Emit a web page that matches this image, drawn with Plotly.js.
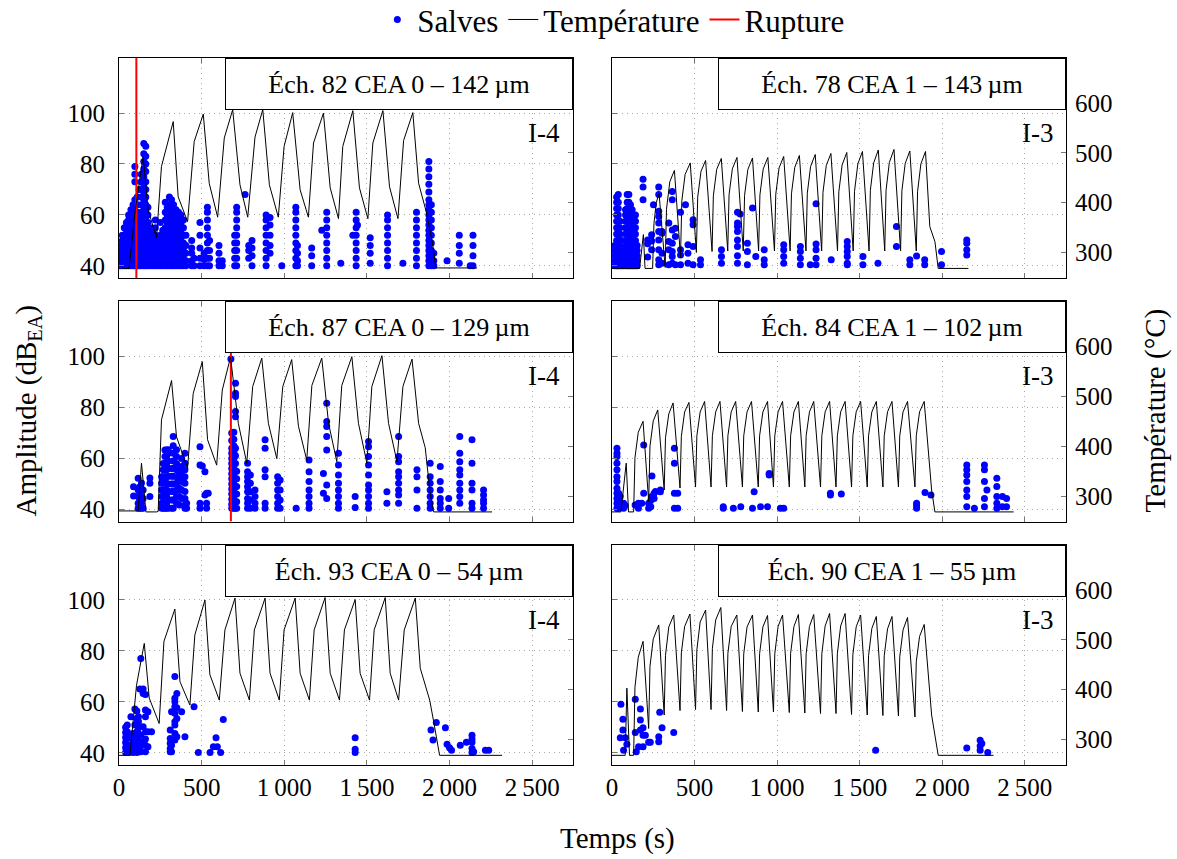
<!DOCTYPE html>
<html><head><meta charset="utf-8">
<script src="https://cdn.plot.ly/plotly-3.0.1.min.js"></script>
<style>html,body{margin:0;padding:0;background:#fff}#chart{width:1177px;height:859px}</style>
</head><body><div id="chart"></div>
<script>
// ---------- axes ----------
const AMP_RANGE = [35.2, 121.6];
const TEMP_RANGE = [248.6, 690.8];
const T_RANGE = [0, 2750];
const xTickVals = [0, 500, 1000, 1500, 2000, 2500];
const xTickText = ['0', '500', '1\u2009000', '1\u2009500', '2\u2009000', '2\u2009500'];
const ampTicks = [40, 60, 80, 100];
const tempTicks = [300, 400, 500, 600];

const panelTitles = [
  'Éch. 82 CEA 0 – 142\u2009µm', 'Éch. 78 CEA 1 – 143\u2009µm',
  'Éch. 87 CEA 0 – 129\u2009µm', 'Éch. 84 CEA 1 – 102\u2009µm',
  'Éch. 93 CEA 0 – 54\u2009µm',  'Éch. 90 CEA 1 – 55\u2009µm'];
const panelLabels = ['I-4', 'I-3', 'I-4', 'I-3', 'I-4', 'I-3'];
const ruptureTimes = [105, null, 677, null, null, null];

// ---------- temperature (time s, °C) ----------
const p1TempT = [15,61,96,146,176,227,257,328,358,415,455,510,546,597,637,688,732,779,823,870,910,964,999,1051,1096,1146,1177,1237,1278,1328,1354,1415,1455,1506,1536,1597,1637,1688,1722,1778,1813,1859,1894,1918,2167];
const p1TempV = [268,268,379,493,386,329,473,563,412,362,523,578,439,371,530,587,436,371,532,587,436,371,513,581,426,371,520,580,430,368,513,585,430,368,520,585,432,368,525,581,439,382,325,269,269];

const p2TempT = [0,167,190,200,246,254,268,285,322,330,350,378,415,423,443,474,511,519,539,567,606,614,634,662,701,709,729,757,795,803,823,851,888,896,916,944,984,992,1012,1040,1079,1087,1107,1135,1175,1183,1203,1231,1270,1278,1298,1326,1366,1374,1394,1422,1461,1469,1489,1517,1557,1565,1585,1613,1652,1660,1680,1708,1748,1756,1776,1804,1843,1851,1871,1899,1925,1956,1976,2159];
const p2TempV = [268,268,336,268,268,358,400,419,270,387,442,465,290,404,457,480,300,411,463,485,302,414,467,489,303,416,468,491,303,415,467,490,303,416,468,491,303,417,470,493,303,418,471,495,303,419,473,497,303,421,475,499,303,422,476,501,303,423,478,503,303,425,480,506,303,425,481,507,303,424,479,504,303,423,478,503,352,322,268,268];

const p3TempT = [0,116,136,163,227,237,257,318,348,415,449,504,536,591,625,675,722,773,809,864,904,955,991,1045,1086,1136,1167,1227,1268,1318,1348,1409,1449,1500,1530,1591,1631,1682,1718,1773,1813,1853,1883,1904,2257];
const p3TempV = [270,270,366,268,268,269,453,532,419,356,506,570,413,362,513,579,446,366,520,577,446,375,520,574,440,372,522,577,446,369,522,580,446,366,520,582,446,369,520,575,446,397,305,268,268];

const p4TempT = [0,54,86,100,131,139,159,188,222,230,250,277,316,324,344,370,412,420,440,466,506,514,534,561,600,608,628,654,694,702,722,749,790,798,818,845,886,894,914,942,978,986,1006,1033,1074,1082,1102,1129,1168,1176,1196,1222,1263,1271,1291,1318,1357,1365,1385,1412,1451,1459,1479,1506,1546,1554,1574,1601,1641,1649,1669,1696,1735,1743,1763,1790,1835,1843,1863,1891,1936,1956,2433];
const p4TempV = [268,268,366,268,268,377,428,450,289,400,451,473,312,417,465,487,316,420,469,488,318,421,469,490,318,421,469,490,318,421,469,490,318,421,469,490,318,421,469,490,318,421,469,490,318,421,469,490,318,421,469,490,318,421,469,490,318,421,469,490,318,421,469,490,318,421,469,490,318,421,469,490,318,421,469,490,318,421,469,490,312,268,268];

const p5TempT = [0,66,106,153,183,243,272,338,369,429,459,520,550,607,641,702,732,789,819,884,914,970,999,1066,1096,1152,1181,1247,1278,1334,1364,1429,1459,1516,1544,1611,1641,1692,1726,1793,1823,1880,1904,1940,2318];
const p5TempV = [268,268,409,493,383,332,497,562,416,369,510,580,430,379,520,584,433,379,520,584,433,379,520,584,433,379,520,585,433,379,520,581,433,379,520,585,433,379,520,584,443,379,336,268,268];

const p6TempT = [0,80,90,106,131,139,159,188,222,230,250,283,316,324,344,374,412,420,440,472,506,514,534,567,600,608,628,659,694,702,722,756,790,798,818,851,886,894,914,942,978,986,1006,1033,1074,1082,1102,1129,1168,1176,1196,1222,1263,1271,1291,1318,1357,1365,1385,1412,1451,1459,1479,1506,1546,1554,1574,1601,1641,1649,1669,1696,1735,1743,1763,1790,1835,1843,1863,1891,1936,1976,2311];
const p6TempV = [268,268,403,268,268,405,465,497,322,447,502,530,349,469,526,550,358,474,527,552,360,480,536,560,360,483,540,565,358,473,527,550,356,472,526,550,355,472,526,549,355,472,527,550,354,473,527,551,353,472,527,551,352,472,528,553,352,472,528,553,350,470,526,550,349,468,523,547,348,468,522,547,347,466,520,545,345,456,507,531,349,268,268];

// ---------- salves: columns [time, amplitudes...] ----------
const p1Salves = [
 [8,40,42,44,46,48],[20,40,42.5,45,47.5,50,52],[32,40,43,46,49,52,55],[45,40,42,45,48,51,54,57],
 [58,40,43,46,49,52,55,58,60],[72,40,42,45,48,51,54,56,62],[85,40,43,46,49,52,55,58,64],
 [96,40,42,45,48,51,54,57,60,63,66,73,76,79],[110,40,43,46,49,52,55,58,61,64,67],
 [122,40,42,45,48,51,54,57,60,70],[135,40,43,46,49,52,55,58,61,64,67,70,73,76],
 [150,40,42,45,48,51,54,57,60,63,66,69,72,75,78,81,84,88],[162,40,43,46,49,52,55,58,61,64,67,70,73,77,80,83,87],
 [175,40,42,45,48,51,54,57,60,63],[190,40,43,46,49,52,55],[205,40,42,45,48,51,54],[220,40,43,46,49,52,55,58],
 [235,40,42,45,48,51],[250,40,43,46,49,52,57],[265,40,42,45,48,51,54],[280,40,43,46,49,52,55,58,61,65],
 [292,40,42,45,48,51,54,57,60,63],[305,40,43,46,49,52,55,58,61,64,67],[318,40,42,45,48,51,54,57,60,63,66],
 [330,40,43,46,49,52,55,58,61,64],[345,40,42,45,48,51,54,57,60,62],[360,40,43,46,49,52,55,58,61],
 [375,40,42,45,48,51,54,57,60],[390,40,43,46,49,52,55,58],[405,40,42,45,48,52],
 [440,40,42,45,47,50],[455,40,43],[490,40,43,47,52,57],[515,40,42.5,45],[535,40,43,46,49,52,55,58,61,63],
 [548,40,43,46,50],[605,40,42,45,48],[625,40,42],[700,40,43,46,49,52],[712,40,43,46,49,52,55,58,61,63],
 [763,68],[785,43,46,48],[805,40,44,47,50],[890,40,43,46,49,52,55,58,60],[914,45,48,52,56,59],[985,40],
 [1070,40,43,46,49,52,55,58,61,63],[1080,40,42,45,48],[1166,40,44,47],[1227,54],[1257,40,43,46,49,52,55,58,61],
 [1342,41],[1415,52],[1435,40,43,46,49,52,55,58,61],[1443,56],[1520,41,45,48,51],[1625,40,43,46,49,52,55,58,60],
 [1718,41],[1800,40,43,46,49,52,55,58,61],[1875,40,42,44,46,48,50,52,54,56,58,60,62,64,66,69,72,75,78,81],
 [1890,40,43,46,49,52,55,58,61,64],[1905,40,42,45],[1985,42],[2059,41,45,48,52],[2125,40],[2142,40,44,48,52]
];
const p2Salves = [
 [18,40,42,44,46,48],[28,40,42.5,45,47.5,50,52.5,55,57.5,60,62.5,65,67],[38,40,42.5,45,47.5,50,52.5,55,57.5,60,62.5,65,68],
 [48,40,42.5,45,47.5,50,52.5,55,57.5],[58,40,42.5,45,47.5,50],[68,40,42.5,45],
 [82,40,42.5,45,47.5,50,52.5,55,57.5,60,62],[92,40,42.5,45,47.5,50,52.5,55,57.5,60,62.5,65,68],
 [102,40,42.5,45,47.5,50,52.5,55,57.5,60,62.5,65,68],[112,40,42.5,45,47.5,50,52.5,55,57.5,60,62.5,64],
 [122,40,42.5,45,47.5,50,52.5,55,57.5,60,62],[132,40,42.5,45,47.5,50,52.5,55,57.5,60],
 [142,40,42.5,45,47.5,50,52.5,55,57.5,60],[152,40,42,44,46,48],
 [188,66,71,74],[216,43.5,48.7,50.2],[240,49.8,52.2,46.3],[251,64],
 [283,71,68,61.4,59.4,56.8,53.5,50.2,46.3,42.4,40.4],[303,53.5,52.8,41,45],[344,56.8,49.6,46.3,40.4],
 [365,69.2,66,54.1,48.9,45.6,43.7,41],[384,54.8,51.5,40.4],[415,61,46.3,44.3,40.4],[445,64],[460,48.3,45,41],
 [491,58.1,56.1,47.6,40.4],[536,42.4,40.4],[663,46.3,43.7,41],[760,61,56.8,55.5,53.5,50.2,47.6,44,41],[776,60.4],
 [820,48.9,45.6,40.4],[851,62.7],[871,43.7],[922,46.3,42.4,40.4],[1040,48.3,46.3,43.7,41],[1141,47.6,45.6,43,40.4],
 [1201,40.4],[1236,64.4,48.6,46.3,43,40.4],[1328,42.4],[1425,49.6,47.6,45.6,43.7,41,40.4],[1520,43.7,40.4],
 [1611,41],[1723,55.5,47.6],[1804,42.4,40.4],[1845,43.9],[1894,42.4,40.4],[1996,45.6,40.4],[2149,50.2,48.9,46.3,44.3]
];
const p3Salves = [
 [88,45.2,48.9],[116,40.4,42.4,45,47.6,52.2],[126,40.4,43.7,46.3,48.9],[136,40.4,42.4,45,50.3],[146,40.4,44.3,47.6],
 [187,50.2,52.3,45],[258,40.4,42.4,45,47.6,50.2,52.8],[268,40.4,42.4,45,47.6,50.2,52.8,55.5,58],
 [278,40.4,42.4,45,47.6,50.2,52.8,55.5,58,60.7,63.3],[288,40.4,42.4,45,47.6,50.2,52.8,55.5,58,60.7,63.3],
 [298,40.4,43.7,47,50,53,56,59,62,63.4],[318,40.4,43.7,47,50,53,56],[328,40.4,43.7,47,50,53,56,59,62,65,68.6],
 [348,42.4,45,47.6,50.2,52.8,55.5,58,60.7,63.4],[365,41.7,45,48.3,51.5,54.8],[379,44.3,47.6,50.9,53.5,56.8,60],
 [399,40.4,41.7,44.3,47,50.2,52.8,55.5,58.1,62],[409,40.4,42.4],[490,40.4,42.4,57.4,64.6],[504,57],[520,54.8,45.6],
 [530,46.3,42.4,40.4],[540,46.3],[677,99],[682,40.4,42,44,46,48,50,52,54,56,58,60,62,64,67,70],
 [695,40.4,42,44,46,48,50,52,54,56,58,60,62.5,65,67.5,70.3],[705,40.4,43,46,49,52,55,58,61,64,76.4,78.4,84.3,85.6,89.5],
 [712,40.4,43,46,49,52,55],[778,40.4,42.4,44.3,46.9,48.9,50.9,52.8,54.8,58.1],[795,40.4,43.7,46.9,50.2,53.5],
 [823,40.4,42.4,45,47.6],[884,67.3,64,55.5,52.8,42.4,40.4],[960,40.4,42.4,45,47.6,50.2,52.8],[975,40.4,43.7,47.6,51.5],
 [1072,40.4],[1150,59.4,54.8,50.9,47.6,45,42.4,40.4],[1237,54.1,46.3],[1257,81.7,74.5,72.5,68.6,63.3,49.6,44.3],
 [1328,62,57.4,53.5,50.2,47.6,45,42.4,40.4],[1429,45,40.7],[1510,66.6,64.6,60.7,57.4,53.5,49.6,47.6,45,42.4,40.4],
 [1621,46.9,42.4],[1692,68.6,60.7,58.7,54.8,52.8,50.2,47.6,45.6,42.4],[1803,55.5,52.8,47.6,40.4],
 [1883,58.1,52.8,50.2,47.6,45,42.4,40.4],[1944,56.8,50.9,47.6,44.3,42.4,40.4],[1995,44.3,40.4],
 [2062,68.6,62,58.7,55.5,53.5,50.2,47.6,45,42.4],[2136,67.3,58.1,50.2,47.6,42.4,40.4],[2206,47.6,45.6,43.7,42.4,40.4]
];
const p4Salves = [
 [30,64,62,60.7,58.1,55.5,52.8,50.9,48.3,46.3,44.3,42.4,40.4],[40,46.3,44.3,42.4,40.4],[50,45,42.4],[70,42.4,40.4],
 [80,41.5],[140,41.7],[160,42.4,40.4],[180,42.4],[192,65.3,46.3],[222,42.4,40.4],[235,43.5,41],[242,53.1,45],
 [255,46.3,44.3],[263,47],[293,47.6,46.9],[378,64,58.1,46.3,40.4],[398,46.3,40.4],[674,41,40.4],[735,40.4],
 [780,41],[851,40.4],[861,46.9],[900,41],[942,41],[952,54.1,53.5],[1020,40.4],[1040,40.4],[1323,46.3,45.6],
 [1389,46],[1845,42.4,40.4,41.5],[1896,46.6],[1932,45.6],[2149,57.4,55.5,53.5,50.9,47.6,45,41],[2195,40.4],
 [2256,57.4,55.5,50.9,44.3,41],[2271,47.6],[2331,52.2,49,45,42.4,40.4],[2365,45,41],[2390,44.3,41]
];
const p5Salves = [
 [40,40.1,42,44,46,48,50],[50,40.4,43,45.6,48.3,50.9],[60,40.1,43,46],[72,40.4,43,46.9,54.1],[85,40.1,42.4,45,47.6],
 [96,57.2,50.9,46.3],[108,40.1,41.7,43.7,46.3,48.3,51.5,53.5,56.4],[118,40.4,42.4,44.6,47.6,49.8,52.2,54.1],
 [126,65,44.3,41.7],[132,77,46.9,40.4],[146,65,63.3,50.2,43.7],[160,62.9,56.8,54.1,48.3,45.4,43,40.4],
 [175,56.1,48.3,42.4],[197,48.3],[310,48.9,45.6,43.7,41.7,40.4],[318,56.1,43,40.4],
 [338,69.9,61.4,60,58.1,55.5,52.2,50.9,47.6,45],[350,63.3,57.7,53.5,46.3],[379,56.1],[399,46.3],[454,58.1],
 [480,40.1],[551,40.1],[571,42.4],[587,45.9],[595,42.4],[615,40.1],[631,53.1],[1429,45.9,41.4,40.1],
 [1888,48.9],[1900,45],[1920,51.9],[1975,49.8],[1985,43.3],[2000,42],[2012,41],[2065,43],[2102,44.1],
 [2136,46.9,45.4,44.1,41.7,40.1],[2146,40.4],[2217,41],[2237,41]
];
const p6Salves = [
 [50,45.9],[54,59],[66,53.2,48.9],[70,41],[80,45.9],[90,43.3],[141,61,48],[147,40.4],[161,42.4],
 [172,57.2,52.9,48.9],[188,49.8,46.9,42.4],[202,46.9],[222,44.1],[232,44.1],[283,46.3,44.3],[289,55.9],
 [303,49.8],[374,48],[1597,41],[2149,41.9],[2230,44.9,42.7,41],[2240,43.6],[2276,40.1]
];

const salvesByPanel = [p1Salves, p2Salves, p3Salves, p4Salves, p5Salves, p6Salves];
const tempTByPanel = [p1TempT, p2TempT, p3TempT, p4TempT, p5TempT, p6TempT];
const tempVByPanel = [p1TempV, p2TempV, p3TempV, p4TempV, p5TempV, p6TempV];

// ---------- layout geometry ----------
const COLS = [[0, 0.4799], [0.5206, 1]];
const ROWS = [[0.6887, 1], [0.3443, 0.6556], [0, 0.3113]];
const FONT = 'Liberation Serif, Times New Roman, serif';
const GRID_DASH = '1px,4px';

function flatten(cols) {
  const x = [], y = [];
  cols.forEach(c => { for (let i = 1; i < c.length; i++) { x.push(c[0]); y.push(c[i]); } });
  return {x, y};
}

const traces = [];
const layout = {
  width: 1177, height: 859, autosize: false,
  margin: {l: 119, r: 111, t: 58, b: 94, autoexpand: false},
  paper_bgcolor: '#fff', plot_bgcolor: '#fff',
  font: {family: FONT, size: 25, color: '#000'},
  showlegend: true,
  legend: {orientation: 'h', x: 0.522, xanchor: 'center', y: 1.054, yanchor: 'middle',
           font: {family: FONT, size: 31}, bgcolor: 'rgba(0,0,0,0)', itemwidth: 30, tracegroupgap: 0},
  annotations: []
};

for (let i = 0; i < 6; i++) {
  const n = i + 1, col = i % 2, row = Math.floor(i / 2);
  const sx = n === 1 ? '' : String(n);
  const xa = 'x' + sx, ya = 'y' + sx, ta = 'y' + (n + 6);
  const s = flatten(salvesByPanel[i]);
  traces.push({type: 'scatter', mode: 'markers', x: s.x, y: s.y, xaxis: xa, yaxis: ya,
    marker: {color: '#0000ff', size: 7}, name: 'Salves', legendgroup: 's', showlegend: i === 0,
    hoverinfo: 'skip'});
  if (ruptureTimes[i] !== null) {
    traces.push({type: 'scatter', mode: 'lines', x: [ruptureTimes[i], ruptureTimes[i]], y: AMP_RANGE,
      xaxis: xa, yaxis: ya, line: {color: '#ff0000', width: 2}, name: 'Rupture', legendgroup: 'r',
      showlegend: false, hoverinfo: 'skip'});
  }
  traces.push({type: 'scatter', mode: 'lines', x: tempTByPanel[i], y: tempVByPanel[i], xaxis: xa, yaxis: ta,
    line: {color: '#000', width: 1}, name: 'Température', legendgroup: 't', showlegend: i === 0,
    hoverinfo: 'skip'});

  layout['xaxis' + sx] = {domain: COLS[col], anchor: ya, range: T_RANGE, tickvals: xTickVals, ticktext: xTickText,
    showticklabels: row === 2, ticks: 'inside', ticklen: 5, tickcolor: '#777', tickwidth: 1,
    showline: true, mirror: 'ticks', linecolor: '#000', linewidth: 1, ticklabelstandoff: 0,
    showgrid: true, gridcolor: '#a8a8a8', griddash: GRID_DASH, gridwidth: 1, zeroline: false,
    tickfont: {family: FONT, size: 25}};
  layout['yaxis' + sx] = {domain: ROWS[row], anchor: xa, range: AMP_RANGE, tickvals: ampTicks,
    showticklabels: col === 0, ticks: 'inside', ticklen: 5, tickcolor: '#777', tickwidth: 1,
    showline: true, mirror: true, linecolor: '#000', linewidth: 1, ticklabelstandoff: 8,
    showgrid: true, gridcolor: '#a8a8a8', griddash: GRID_DASH, gridwidth: 1, zeroline: false,
    tickfont: {family: FONT, size: 25}};
  layout['yaxis' + (n + 6)] = {overlaying: ya, anchor: xa, side: 'right', range: TEMP_RANGE, tickvals: tempTicks,
    showticklabels: col === 1, ticks: 'inside', ticklen: 5, tickcolor: '#777', tickwidth: 1,
    showline: false, showgrid: false, zeroline: false, ticklabelstandoff: 8,
    tickfont: {family: FONT, size: 25}};

  layout.annotations.push({xref: xa + ' domain', yref: ya + ' domain', x: 1, y: 1, xanchor: 'right', yanchor: 'top',
    text: panelTitles[i], showarrow: false, bgcolor: '#fff', bordercolor: '#000', borderwidth: 1, borderpad: 0,
    width: 346, height: 50, font: {family: FONT, size: 26}});
  layout.annotations.push({xref: xa + ' domain', yref: ya + ' domain', x: 0.975, y: 0.66, xanchor: 'right',
    yanchor: 'middle', text: panelLabels[i], showarrow: false, font: {family: FONT, size: 27}});
}
// legend entry for the rupture line
traces.push({type: 'scatter', mode: 'lines', x: [null], y: [null], xaxis: 'x', yaxis: 'y',
  line: {color: '#ff0000', width: 2}, name: 'Rupture', legendgroup: 'r', showlegend: true, hoverinfo: 'skip'});

layout.annotations.push({xref: 'paper', yref: 'paper', x: -0.0964, y: 0.501, xanchor: 'center', yanchor: 'middle',
  textangle: -90, text: 'Amplitude (dB<sub>EA</sub>)', showarrow: false, font: {family: FONT, size: 29}});
layout.annotations.push({xref: 'paper', yref: 'paper', x: 1.0946, y: 0.501, xanchor: 'center', yanchor: 'middle',
  textangle: -90, text: 'Température (°C)', showarrow: false, font: {family: FONT, size: 29}});
layout.annotations.push({xref: 'paper', yref: 'paper', x: 0.526, y: -0.1033, xanchor: 'center', yanchor: 'middle',
  text: 'Temps (s)', showarrow: false, font: {family: FONT, size: 29}});

Plotly.newPlot('chart', traces, layout, {staticPlot: true, displayModeBar: false});
</script>
</body></html>
